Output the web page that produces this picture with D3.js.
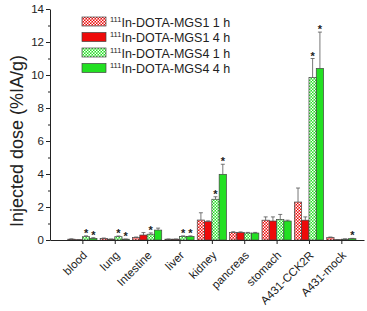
<!DOCTYPE html>
<html>
<head>
<meta charset="utf-8">
<script src="https://cdn.jsdelivr.net/npm/d3@7"></script>
<style>
  body { margin: 0; background: #fff; }
  svg { font-family: "Liberation Sans", Arial, sans-serif; }
</style>
</head>
<body>
<div id="chart"></div>
<script>
// categories and series
const organs = ["blood", "lung", "Intestine", "liver", "kidney", "pancreas", "stomach", "A431-CCK2R", "A431-mock"];
const seriesNames = ["In-DOTA-MGS1 1 h", "In-DOTA-MGS1 4 h", "In-DOTA-MGS4 1 h", "In-DOTA-MGS4 4 h"];

const mgs1_1h = [0.05, 0.1, 0.15, 0.05, 1.21, 0.45, 1.2, 2.3, 0.15];
const mgs1_4h = [0.02, 0.05, 0.3, 0.05, 1.11, 0.45, 1.15, 1.2, 0.02];
const mgs4_1h = [0.2, 0.2, 0.35, 0.22, 2.47, 0.42, 1.25, 9.85, 0.05];
const mgs4_4h = [0.1, 0.05, 0.6, 0.22, 3.98, 0.42, 1.15, 10.4, 0.08];

const err1_1h = [0.02, 0.02, 0.03, 0.01, 0.44, 0.05, 0.2, 0.85, 0.03];
const err1_4h = [0.01, 0.01, 0.15, 0.01, 0.05, 0.04, 0.25, 0.2, 0.01];
const err4_1h = [0.05, 0.04, 0.08, 0.03, 0.15, 0.04, 0.3, 1.15, 0.02];
const err4_4h = [0.04, 0.01, 0.12, 0.03, 0.61, 0.04, 0.05, 2.2, 0.02];

// which bars got a significance star
const star1_1h = [0, 0, 0, 0, 0, 0, 0, 0, 0];
const star1_4h = [0, 0, 0, 0, 0, 0, 0, 0, 0];
const star4_1h = [1, 1, 1, 1, 1, 0, 0, 1, 0];
const star4_4h = [1, 1, 0, 1, 1, 0, 0, 1, 1];

const yTicks = [0, 2, 4, 6, 8, 10, 12, 14];

const values = [mgs1_1h, mgs1_4h, mgs4_1h, mgs4_4h];
const errors = [err1_1h, err1_4h, err4_1h, err4_4h];
const stars = [star1_1h, star1_4h, star4_1h, star4_4h];

const red = "#ee0a0a", green = "#22e022";
const fills = ["url(#checkRed)", red, "url(#checkGreen)", green];

const width = 367, height = 311;
const svg = d3.select("#chart").append("svg")
    .attr("width", width).attr("height", height);

// checker patterns for the 1 h bars
const defs = svg.append("defs");
[["checkRed", red], ["checkGreen", green]].forEach(([id, c]) => {
    const p = defs.append("pattern").attr("id", id)
        .attr("patternUnits", "userSpaceOnUse")
        .attr("width", 3).attr("height", 3);
    p.append("rect").attr("width", 3).attr("height", 3).attr("fill", c);
    p.append("rect").attr("width", 1.5).attr("height", 1.5).attr("fill", "#fff");
    p.append("rect").attr("x", 1.5).attr("y", 1.5).attr("width", 1.5).attr("height", 1.5).attr("fill", "#fff");
});

// x is a plain linear position, categories at 1..9 like Origin does it
const x = d3.scaleLinear().domain([0, 9.7]).range([50, 364]);
const y = d3.scaleLinear().domain([0, 14]).range([240, 9]);
const barW = 7.3;

const g = svg.append("g");

organs.forEach((organ, i) => {
    for (let s = 0; s < 4; s++) {
        const x0 = x(i + 1) + (s - 2) * barW;
        const v = values[s][i];
        const e = errors[s][i];
        g.append("rect")
            .attr("x", x0).attr("y", y(v))
            .attr("width", barW).attr("height", y(0) - y(v))
            .attr("fill", fills[s])
            .attr("stroke", "#444").attr("stroke-width", 0.7);
        const cx = x0 + barW / 2;
        g.append("line")
            .attr("x1", cx).attr("x2", cx)
            .attr("y1", y(v)).attr("y2", y(v + e))
            .attr("stroke", "#555").attr("stroke-width", 0.8);
        g.append("line")
            .attr("x1", cx - 2).attr("x2", cx + 2)
            .attr("y1", y(v + e)).attr("y2", y(v + e))
            .attr("stroke", "#555").attr("stroke-width", 0.8);
        if (stars[s][i]) {
            g.append("text")
                .attr("x", cx).attr("y", y(v + e) + 1)
                .attr("text-anchor", "middle")
                .attr("font-size", 11).attr("font-weight", "bold").attr("fill", "#222")
                .text("*");
        }
    }
});

// y axis
const yAxis = svg.append("g").attr("transform", "translate(50,0)")
    .call(d3.axisLeft(y).tickValues(yTicks).tickSize(4).tickPadding(2).tickSizeOuter(0));
svg.append("g").attr("transform", "translate(50,0)")
    .call(d3.axisLeft(y).tickValues(d3.range(1, 14, 2)).tickSize(2).tickFormat("").tickSizeOuter(0))
    .select(".domain").remove();
yAxis.selectAll("text").attr("font-size", 11.5).attr("fill", "#222")
    .style("font-family", "Liberation Sans, Arial, sans-serif");

// x axis
const xAxis = svg.append("g").attr("transform", "translate(0,240)")
    .call(d3.axisBottom(x).tickValues(d3.range(1, 10)).tickSize(4).tickSizeOuter(0)
        .tickFormat(d => organs[d - 1]));
xAxis.selectAll("text")
    .attr("font-size", 11.5).attr("fill", "#222")
    .style("font-family", "Liberation Sans, Arial, sans-serif")
    .attr("text-anchor", "end")
    .attr("dy", 0).attr("y", 0)
    .attr("transform", "translate(5,16) rotate(-45)");

svg.selectAll(".domain, .tick line").attr("stroke", "#222");

// y label
svg.append("text")
    .attr("transform", "translate(23,141) rotate(-90)")
    .attr("text-anchor", "middle")
    .attr("font-size", 18).attr("fill", "#222")
    .text("Injected dose (%IA/g)");

// legend
const legend = svg.append("g");
seriesNames.forEach((name, s) => {
    const ly = 17 + s * 15.5;
    legend.append("rect")
        .attr("x", 82).attr("y", ly).attr("width", 24).attr("height", 9)
        .attr("fill", fills[s]).attr("stroke", "#444").attr("stroke-width", 0.7);
    const t = legend.append("text")
        .attr("x", 110).attr("y", ly + 9.5)
        .attr("font-size", 12.5).attr("fill", "#222");
    t.append("tspan").attr("font-size", 7.5).attr("dy", -5).text("111");
    t.append("tspan").attr("dy", 5).text(name);
});
</script>
</body>
</html>
